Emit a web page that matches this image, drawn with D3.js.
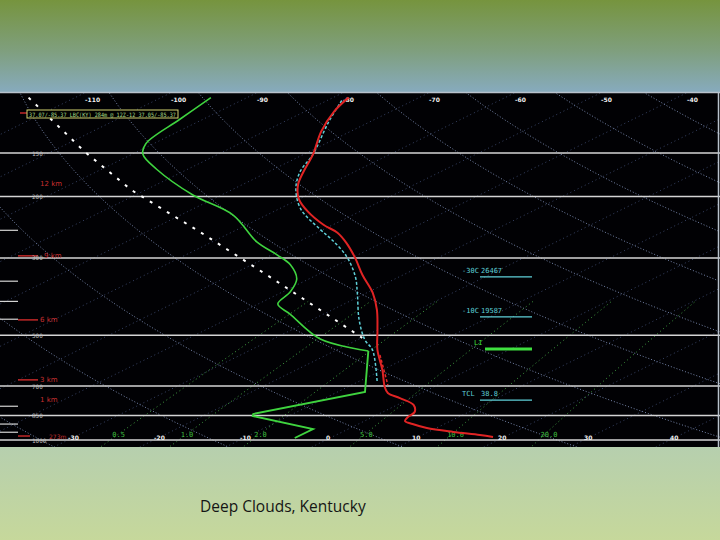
<!DOCTYPE html>
<html><head><meta charset="utf-8">
<script src="https://cdn.jsdelivr.net/npm/d3@7"></script>
<style>body{margin:0;background:#fff}svg{display:block}</style>
</head><body>
<svg id="c" width="720" height="540"></svg>
<script>
// ---------- data ----------
const pressureLevels = [150, 200, 300, 500, 700, 850, 1000];
const pressureLabels = ["150", "200", "300", "500", "700", "850", "1000"];
const minorPressures = [250, 350, 400, 450, 800, 900, 950];
const isothermTopLabels = [-110, -100, -90, -80, -70, -60, -50, -40];
const isothermBottomLabels = [-30, -20, -10, 0, 10, 20, 30, 40];
const mixingRatios = [0.5, 1, 2, 5, 10, 20];
const mixingRatioLabels = ["0.5", "1.0", "2.0", "5.0", "10.0", "20.0"];
const thetaValues = [240, 260, 280, 300, 320, 340, 360, 380, 400, 420, 440, 460, 480, 500];

const tempPressure = [104, 114, 130, 151, 170, 185, 203, 221, 241, 254, 272, 300, 336, 378, 423, 483, 551, 629, 704, 733, 758, 793, 831, 859, 882, 900, 924, 948, 967, 980];
const tempValues = [-78.2, -76.6, -73.4, -69.0, -65.9, -63.5, -60.1, -56.0, -51.1, -47.6, -44.1, -39.6, -34.7, -29.3, -24.8, -20.0, -15.3, -10.0, -5.7, -3.9, -1.3, 1.9, 3.7, 4.1, 4.7, 6.3, 8.9, 12.9, 16.7, 18.7];

// upper (smooth) and lower (jagged) parts of the dew point trace
const dewPressure = [104, 120, 141, 151, 167, 198, 226, 270, 294, 314, 345, 376, 407, 435, 513, 555];
const dewValues = [-94.2, -92.7, -90.9, -88.8, -83.6, -73.3, -63.9, -54.8, -49.4, -45.5, -41.4, -39.1, -37.7, -33.9, -24.5, -16.1];
const dewLowPressure = [555, 728, 842, 853, 930, 987];
const dewLowValues = [-16.1, -6.8, -14.6, -14.2, -4.1, -4.1];

const virtPressure = [106, 122, 151, 170, 190, 217, 248, 267, 298, 340, 379, 452, 516, 552, 686];
const virtValues = [-78.3, -74.8, -69.0, -66.3, -62.8, -57.5, -50.5, -46.4, -40.8, -35.1, -31.0, -24.5, -19.1, -15.8, -7.5];

const virtLowPressure = [570, 617, 695];
const virtLowValues = [-13.8, -10.6, -5.8];

const parcelPressure = [104, 124, 149, 192, 253, 336, 449, 509];
const parcelValues = [-115.4, -105.9, -96.0, -81.5, -63.7, -45.8, -27.7, -19.9];

const heightLabels = ["12 km", "9 km", "6 km", "3 km", "1 km", "273m"];
const heightPressures = [183, 296, 452, 672, 763, 974];
const heightMarked = [false, true, true, true, false, true];

const levelNames = ["-30C", "-10C", "LI", "TCL"];
const levelValues = ["26467", "19587", "", "38.8"];
const levelPressures = [340, 443, 548, 768];
const stationText = "37.07/-85.37 LBC(KY) 284m @ 12Z-12 37.05/-85.37";

// ---------- scales ----------
const W = 720, H = 540;
const plotTop = 92, plotBottom = 447;
const y = d3.scaleLog().domain([1000, 100]).range([440, 91.7]);
const xT = d3.scaleLinear().domain([0, 10]).range([326, 412]);
const skew = 2.03;
const X = (T, p) => xT(T) + skew * (y(1000) - y(p));

const svg = d3.select("#c");
const defs = svg.append("defs");
const gt = defs.append("linearGradient").attr("id", "topg").attr("x1", 0).attr("y1", 0).attr("x2", 0).attr("y2", 1);
gt.append("stop").attr("offset", "0%").attr("stop-color", "#76943e");
gt.append("stop").attr("offset", "55%").attr("stop-color", "#7f9f7e");
gt.append("stop").attr("offset", "100%").attr("stop-color", "#87abbf");
const gb = defs.append("linearGradient").attr("id", "botg").attr("x1", 0).attr("y1", 0).attr("x2", 0).attr("y2", 1);
gb.append("stop").attr("offset", "0%").attr("stop-color", "#b6cfae");
gb.append("stop").attr("offset", "100%").attr("stop-color", "#c6d89b");
defs.append("clipPath").attr("id", "clip").append("rect")
  .attr("x", 0).attr("y", plotTop).attr("width", W).attr("height", plotBottom - plotTop);

svg.append("rect").attr("x", 0).attr("y", 0).attr("width", W).attr("height", plotTop + 1).attr("fill", "url(#topg)");
svg.append("rect").attr("x", 0).attr("y", plotBottom).attr("width", W).attr("height", H - plotBottom).attr("fill", "url(#botg)");
svg.append("rect").attr("x", 0).attr("y", plotTop).attr("width", W).attr("height", plotBottom - plotTop).attr("fill", "#010104");

const plot = svg.append("g").attr("clip-path", "url(#clip)");
const line = d3.line().x(d => X(d.T, d.p)).y(d => y(d.p));
const smooth = d3.line().curve(d3.curveCatmullRom).x(d => X(d.T, d.p)).y(d => y(d.p));
const pGrid = d3.range(1060, 90, -10);

// isotherms
d3.range(-190, 60, 10).forEach(T => {
  plot.append("path").datum([{T, p: 1060}, {T, p: 95}]).attr("d", line)
    .attr("fill", "none").attr("stroke", "#4a5a86").attr("stroke-width", 1)
    .attr("stroke-dasharray", "1,3").attr("opacity", 0.75);
});
// dry adiabats
thetaValues.forEach(th => {
  const pts = pGrid.map(p => ({p, T: th * Math.pow(p / 1000, 0.286) - 273.15}));
  plot.append("path").datum(pts).attr("d", line)
    .attr("fill", "none").attr("stroke", "#8a9bc6").attr("stroke-width", 1)
    .attr("stroke-dasharray", "1,2").attr("opacity", 0.85);
});
// mixing ratio lines
const tdOf = (w, p) => {
  const e = p * (w / 1000) / (0.622 + w / 1000);
  const l = Math.log(e / 6.112);
  return 243.5 * l / (17.67 - l);
};
mixingRatios.forEach(w => {
  const pts = d3.range(1060, 390, -10).map(p => ({p, T: tdOf(w, p)}));
  plot.append("path").datum(pts).attr("d", line)
    .attr("fill", "none").attr("stroke", "#49b049").attr("stroke-width", 1)
    .attr("stroke-dasharray", "1,3").attr("opacity", 0.9);
});

// pressure lines
pressureLevels.forEach(p => {
  plot.append("line").attr("x1", 0).attr("x2", W).attr("y1", y(p)).attr("y2", y(p))
    .attr("stroke", "#d4d4d4").attr("stroke-width", 1.5);
});
minorPressures.forEach(p => {
  plot.append("line").attr("x1", 0).attr("x2", 18).attr("y1", y(p)).attr("y2", y(p))
    .attr("stroke", "#d4d4d4").attr("stroke-width", 1.2);
});

// height markers
const heightX = [40, 44, 40, 40, 40, 49];
heightLabels.forEach((t, i) => {
  const yy = y(heightPressures[i]);
  if (heightMarked[i]) {
    plot.append("line").attr("x1", 18).attr("x2", i === 5 ? 30 : 38).attr("y1", yy).attr("y2", yy)
      .attr("stroke", "#c02828").attr("stroke-width", 1.5);
  }
  plot.append("text").attr("x", heightX[i]).attr("y", yy + 2.5).text(t)
    .attr("fill", "#c83030").attr("font-family", "DejaVu Sans").attr("font-size", i === 5 ? 6 : 7);
});
plot.append("line").attr("x1", 20).attr("x2", 27).attr("y1", 113).attr("y2", 113)
  .attr("stroke", "#c02828").attr("stroke-width", 1.5);

// pressure labels
pressureLevels.forEach((p, i) => {
  plot.append("text").attr("x", 32).attr("y", y(p) + 2.5).text(pressureLabels[i])
    .attr("fill", "#bdbdbd").attr("font-family", "DejaVu Sans Mono").attr("font-size", 6);
});

// isotherm labels
isothermTopLabels.forEach(T => {
  plot.append("text").attr("x", X(T, 100) - 2).attr("y", 102).text(T)
    .attr("fill", "#f0f0f0").attr("font-family", "DejaVu Sans").attr("font-weight", "bold").attr("font-size", 6);
});
isothermBottomLabels.forEach(T => {
  plot.append("text").attr("x", X(T, 1000)).attr("y", 440).text(T)
    .attr("fill", "#f0f0f0").attr("font-family", "DejaVu Sans").attr("font-weight", "bold").attr("font-size", 6);
});
mixingRatios.forEach((w, i) => {
  plot.append("text").attr("x", X(tdOf(w, 1000), 1000) + 2).attr("y", 437).text(mixingRatioLabels[i])
    .attr("fill", "#3fbf3f").attr("font-family", "DejaVu Sans Mono").attr("font-size", 7);
});

// profiles
const mk = (ps, ts) => ps.map((p, i) => ({p, T: ts[i]}));
plot.append("path").datum(mk(parcelPressure, parcelValues)).attr("d", line)
  .attr("fill", "none").attr("stroke", "#ffffff").attr("stroke-width", 2).attr("stroke-dasharray", "3,7");
plot.append("path").datum(mk(dewPressure, dewValues)).attr("d", smooth)
  .attr("fill", "none").attr("stroke", "#3fd33f").attr("stroke-width", 1.6);
plot.append("path").datum(mk(dewLowPressure, dewLowValues)).attr("d", line)
  .attr("fill", "none").attr("stroke", "#3fd33f").attr("stroke-width", 1.9);
plot.append("path").datum(mk(virtPressure, virtValues)).attr("d", smooth)
  .attr("fill", "none").attr("stroke", "#5fd0d8").attr("stroke-width", 1.5).attr("stroke-dasharray", "3,2");
plot.append("path").datum(mk(virtLowPressure, virtLowValues)).attr("d", line)
  .attr("fill", "none").attr("stroke", "#e02828").attr("stroke-width", 1.5).attr("stroke-dasharray", "3,2");
plot.append("path").datum(mk(tempPressure, tempValues)).attr("d", smooth)
  .attr("fill", "none").attr("stroke", "#e02424").attr("stroke-width", 2);

// level annotations (right)
levelNames.forEach((n, i) => {
  const yy = y(levelPressures[i]);
  const isLI = n === "LI";
  const col = isLI ? "#3fe03f" : "#5fd0d8";
  plot.append("line").attr("x1", isLI ? 485 : 480).attr("x2", 532).attr("y1", yy).attr("y2", yy)
    .attr("stroke", col).attr("stroke-width", isLI ? 3 : 1.3);
  plot.append("text").attr("x", isLI ? 474 : 462).attr("y", yy - 4).text(n)
    .attr("fill", col).attr("font-family", "DejaVu Sans Mono").attr("font-size", 7);
  if (levelValues[i]) {
    plot.append("text").attr("x", 481).attr("y", yy - 4).text(levelValues[i])
      .attr("fill", col).attr("font-family", "DejaVu Sans Mono").attr("font-size", 7);
  }
});

// station box
plot.append("rect").attr("x", 27).attr("y", 110).attr("width", 151).attr("height", 8)
  .attr("fill", "#000").attr("stroke", "#d2d26e").attr("stroke-width", 1);
plot.append("text").attr("x", 29).attr("y", 116.5).text(stationText)
  .attr("textLength", 147).attr("lengthAdjust", "spacingAndGlyphs")
  .attr("fill", "#a8dc8a").attr("font-family", "DejaVu Sans Mono").attr("font-size", 6);

// borders
svg.append("line").attr("x1", 0).attr("x2", W).attr("y1", plotTop + 0.5).attr("y2", plotTop + 0.5)
  .attr("stroke", "#b9c2cc").attr("stroke-width", 1.5);
svg.append("line").attr("x1", W - 1.5).attr("x2", W - 1.5).attr("y1", plotTop).attr("y2", plotBottom)
  .attr("stroke", "#b9c2cc").attr("stroke-width", 1.5);

// title
svg.append("text").attr("x", 200).attr("y", 512).text("Deep Clouds, Kentucky")
  .attr("fill", "#151515").attr("font-family", "Open Sans").attr("font-size", 15.5);
</script>
</body></html>
